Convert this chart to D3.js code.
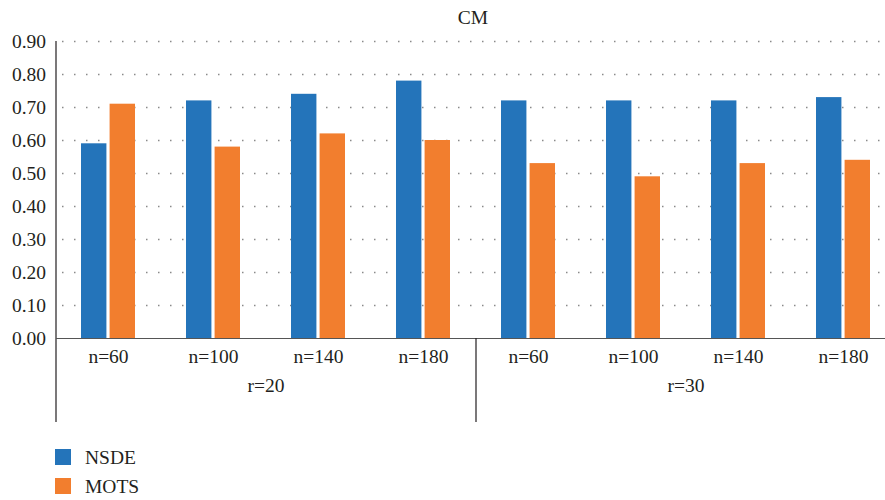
<!DOCTYPE html>
<html><head><meta charset="utf-8">
<script src="https://cdn.jsdelivr.net/npm/d3@7"></script>
<style>body{margin:0;background:#fff}svg{display:block}svg text{font-family:"Liberation Serif","DejaVu Serif",serif !important;fill:#231f20}</style>
</head><body><svg id="c" width="885" height="500"></svg>
<script>
const groups = ["r=20", "r=30"];
const categories = ["r=20|n=60","r=20|n=100","r=20|n=140","r=20|n=180","r=30|n=60","r=30|n=100","r=30|n=140","r=30|n=180"];
const seriesNames = ["NSDE", "MOTS"];
const nsde = [0.59, 0.72, 0.74, 0.78, 0.72, 0.72, 0.72, 0.73];
const mots = [0.71, 0.58, 0.62, 0.60, 0.53, 0.49, 0.53, 0.54];
const yTicks = [0,0.1,0.2,0.3,0.4,0.5,0.6,0.7,0.8,0.9];
const colors = ["#2474ba", "#f27e2e"];

const svg = d3.select("#c");
const L = 56, R = 896, T = 41, B = 338;
const FS = 19.5;
const x = d3.scaleBand().domain(categories).range([L, R]);
const xs = d3.scaleBand().domain(seriesNames).range([25, 79]).paddingInner(0.111);
const y = d3.scaleLinear().domain([0, 0.9]).range([B, T]);

// grid
svg.append("g").selectAll("line").data(yTicks.slice(1)).join("line")
  .attr("x1", L + 6).attr("x2", R).attr("y1", d => Math.round(y(d)) + 0.5).attr("y2", d => Math.round(y(d)) + 0.5)
  .attr("stroke", "#8a8a8a").attr("stroke-width", 1.5).attr("stroke-dasharray", "1.5,10.5");

// bars
const data = [nsde, mots];
data.forEach((arr, si) => {
  svg.append("g").selectAll("rect").data(arr).join("rect")
    .attr("x", (d, i) => x(categories[i]) + xs(seriesNames[si]))
    .attr("width", xs.bandwidth())
    .attr("y", d => y(d)).attr("height", d => B - y(d))
    .attr("fill", colors[si]);
});

// y axis
const ya = svg.append("g").attr("transform", `translate(${L},0)`)
  .call(d3.axisLeft(y).tickValues(yTicks).tickFormat(d3.format(".2f")).tickSize(0).tickPadding(10));
ya.attr("font-family", null).attr("font-size", null);
ya.select(".domain").remove();
ya.selectAll("text").attr("font-size", FS).attr("fill", "#231f20").attr("x", -10).attr("dy", "0.34em");
svg.append("line").attr("x1", L).attr("x2", L).attr("y1", T).attr("y2", 422).attr("stroke", "#231f20").attr("stroke-width", 1.2);

// x axis baseline
svg.append("line").attr("x1", L).attr("x2", R).attr("y1", B + 0.5).attr("y2", B + 0.5).attr("stroke", "#555").attr("stroke-width", 1.2);
const xa = svg.append("g").attr("transform", `translate(0,${B})`)
  .call(d3.axisBottom(x).tickSize(0).tickFormat(d => d.split("|")[1]));
xa.attr("font-family", null).attr("font-size", null);
xa.select(".domain").remove();
xa.selectAll("text").attr("font-size", FS).attr("fill", "#231f20").attr("y", 25).attr("dy", 0);

// group labels & separators
const gx = d3.scaleBand().domain(groups).range([L, R]);
svg.append("g").selectAll("text").data(groups).join("text")
  .attr("x", d => gx(d) + gx.bandwidth() / 2).attr("y", 392).attr("text-anchor", "middle").attr("font-size", FS).text(d => d);
svg.append("g").selectAll("line").data(groups.slice(1).concat(["end"])).join("line")
  .attr("x1", (d, i) => i === 0 ? gx(d) : R).attr("x2", (d, i) => i === 0 ? gx(d) : R)
  .attr("y1", B).attr("y2", 422).attr("stroke", "#231f20").attr("stroke-width", 1.2);

// title
svg.append("text").attr("x", 473).attr("y", 24).attr("text-anchor", "middle").attr("font-size", FS).text("CM");

// legend
const lg = svg.append("g").selectAll("g").data(seriesNames).join("g")
  .attr("transform", (d, i) => `translate(55,${449 + i * 29})`);
lg.append("rect").attr("width", 16).attr("height", 16).attr("fill", (d, i) => colors[i]);
lg.append("text").attr("x", 30).attr("y", 14.5).attr("font-size", FS).text(d => d);
</script></body></html>
